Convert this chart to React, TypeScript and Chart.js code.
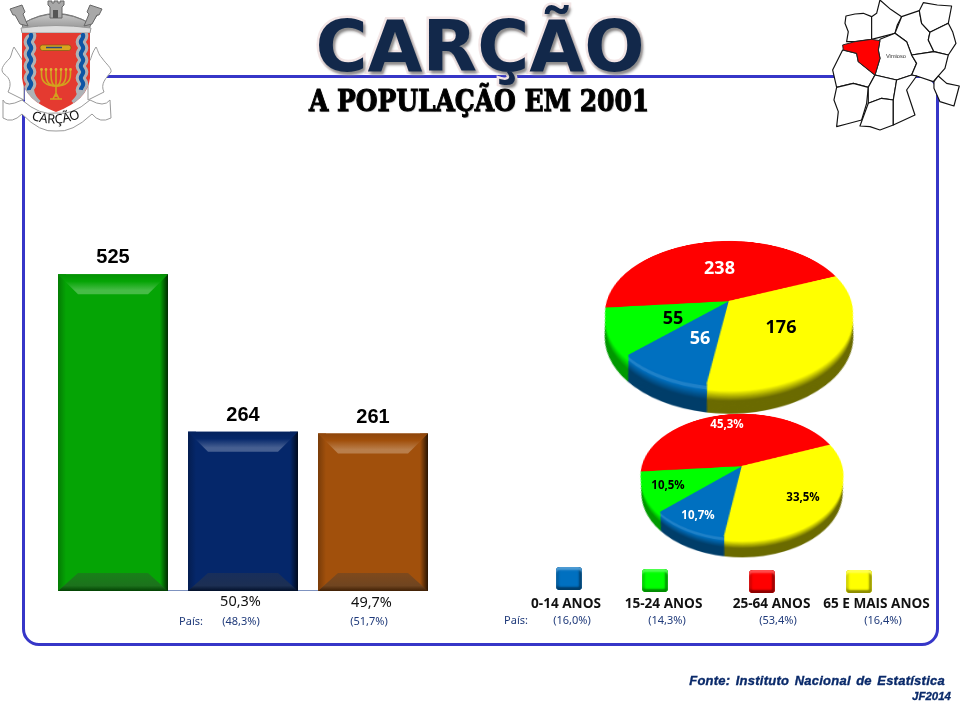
import React, { useEffect, useRef } from "react";
import { Chart, registerables } from "chart.js";

Chart.register(...registerables);

// ---- data ----
const genderCategories = ["Total", "Homens", "Mulheres"];
const genderValues = [525, 264, 261];
const genderColors = ["#05a405", "#05276a", "#a1500c"];
const genderShares = ["", "50,3%", "49,7%"];
const genderNational = ["", "(48,3%)", "(51,7%)"];

const ageCategories = ["0-14 ANOS", "15-24 ANOS", "25-64 ANOS", "65 E MAIS ANOS"];
const ageValues = [56, 55, 238, 176];
const agePercents = [10.7, 10.5, 45.3, 33.5];
const agePercentLabels = ["10,7%", "10,5%", "45,3%", "33,5%"];
const ageNational = ["(16,0%)", "(14,3%)", "(53,4%)", "(16,4%)"];
const ageColors = ["#0070c0", "#00ff00", "#ff0000", "#ffff00"];
const ageLabelColors = ["#ffffff", "#000000", "#ffffff", "#000000"];
const wallFloors = [0.55, 0.6, 0.5, 0.42];

const TITLE = "CARÇÃO";
const SUBTITLE = "A POPULAÇÃO EM 2001";
const SOURCE = "Fonte: Instituto Nacional de Estatística";
const CREDIT = "JF2014";

function hexRgb(hex: string) {
  const n = parseInt(hex.slice(1), 16);
  return [(n >> 16) & 255, (n >> 8) & 255, n & 255];
}
function tone(hex: string, dark: number, light: number) {
  const c = hexRgb(hex).map((v) => {
    const d = v * dark;
    return Math.round(d + (255 - d) * light);
  });
  return `rgb(${c[0]},${c[1]},${c[2]})`;
}
const darker = (hex: string, f: number) => tone(hex, f, 0);
const lighter = (hex: string, f: number) => tone(hex, 1, f);

const barBevel = {
  id: "barBevel",
  beforeDatasetsDraw(chart: any) {
    const { ctx, scales } = chart;
    const base = scales.y.getPixelForValue(0);
    ctx.save();
    ctx.strokeStyle = "#7f93c0";
    ctx.lineWidth = 1;
    ctx.beginPath();
    ctx.moveTo(chart.chartArea.left + 10, base - 0.5);
    ctx.lineTo(chart.chartArea.right - 10, base - 0.5);
    ctx.stroke();
    ctx.restore();
  },
  afterDatasetsDraw(chart: any) {
    const { ctx } = chart;
    const meta = chart.getDatasetMeta(0);
    meta.data.forEach((el: any, i: number) => {
      const col = genderColors[i];
      const l = el.x - el.width / 2;
      const r = el.x + el.width / 2;
      const t = el.y;
      const b = el.base;
      const inset = 20;
      ctx.save();
      let g = ctx.createLinearGradient(l, 0, l + 8, 0);
      g.addColorStop(0, darker(col, 0.75));
      g.addColorStop(1, col);
      ctx.fillStyle = g;
      ctx.fillRect(l, t, 8, b - t);
      g = ctx.createLinearGradient(r - 8, 0, r, 0);
      g.addColorStop(0, col);
      g.addColorStop(1, darker(col, 0.25));
      ctx.fillStyle = g;
      ctx.fillRect(r - 8, t, 8, b - t);

      g = ctx.createLinearGradient(0, t, 0, t + inset);
      g.addColorStop(0, darker(col, 0.88));
      g.addColorStop(0.35, col);
      g.addColorStop(0.8, lighter(col, 0.26));
      g.addColorStop(1, lighter(col, 0.26));
      ctx.fillStyle = g;
      ctx.beginPath();
      ctx.moveTo(l, t);
      ctx.lineTo(r, t);
      ctx.lineTo(r - inset, t + inset);
      ctx.lineTo(l + inset, t + inset);
      ctx.closePath();
      ctx.fill();

      g = ctx.createLinearGradient(0, b - 18, 0, b);
      g.addColorStop(0, tone(col, 0.72, 0.08));
      g.addColorStop(0.7, tone(col, 0.6, 0.1));
      g.addColorStop(1, darker(col, 0.4));
      ctx.fillStyle = g;
      ctx.beginPath();
      ctx.moveTo(l, b);
      ctx.lineTo(r, b);
      ctx.lineTo(r - inset, b - 18);
      ctx.lineTo(l + inset, b - 18);
      ctx.closePath();
      ctx.fill();

      ctx.fillStyle = "#000000";
      ctx.font = "bold 20px 'Liberation Sans'";
      ctx.textAlign = "center";
      ctx.textBaseline = "alphabetic";
      ctx.fillText(String(genderValues[i]), el.x, t - 11);
      ctx.restore();
    });
  },
};

const pieWall = {
  id: "pieWall",
  beforeDatasetsDraw(chart: any, _args: any, opts: any) {
    const { ctx } = chart;
    const depth: number = opts.depth;
    const arcs = chart.getDatasetMeta(0).data;
    ctx.save();
    for (let i = depth; i >= 1; i--) {
      const t = i / depth;
      arcs.forEach((a: any, k: number) => {
        const col = ageColors[k];
        let fill: string;
        if (t < 0.1) fill = col;
        else if (t < 0.22) fill = k === 0 ? lighter(col, 0.12) : col;
        else {
          const u = Math.min(1, (t - 0.22) / 0.36);
          fill = darker(col, 1 + (wallFloors[k] - 1) * u);
        }
        const radius = a.outerRadius * (1 - 0.05 * t);
        ctx.fillStyle = fill;
        ctx.beginPath();
        ctx.moveTo(a.x, a.y + i);
        ctx.arc(a.x, a.y + i, radius, a.startAngle, a.endAngle);
        ctx.closePath();
        ctx.fill();
      });
    }
    ctx.restore();
  },
};

function BarPanel() {
  const ref = useRef<HTMLCanvasElement>(null);
  useEffect(() => {
    const chart = new Chart(ref.current!, {
      type: "bar",
      data: {
        labels: genderCategories,
        datasets: [
          {
            data: genderValues,
            backgroundColor: genderColors,
            borderWidth: 0,
            categoryPercentage: 1,
            barPercentage: 110 / 130,
          },
        ],
      },
      options: {
        animation: false,
        responsive: false,
        devicePixelRatio: 1,
        layout: { padding: 0 },
        plugins: { legend: { display: false }, tooltip: { enabled: false } },
        scales: {
          x: { display: false },
          y: { display: false, min: 0, max: 600 },
        },
      },
      plugins: [barBevel],
    } as any);
    return () => chart.destroy();
  }, []);
  return (
    <canvas
      ref={ref}
      width={390}
      height={362}
      style={{ position: "absolute", left: 48, top: 229 }}
    />
  );
}

function PiePanel(props: {
  values: number[];
  cx: number;
  cy: number;
  radius: number;
  depth: number;
  perspective: number;
  tilt: number;
}) {
  const ref = useRef<HTMLCanvasElement>(null);
  const size = 380;
  useEffect(() => {
    const chart = new Chart(ref.current!, {
      type: "pie",
      data: {
        labels: ageCategories,
        datasets: [
          {
            data: props.values,
            backgroundColor: ageColors,
            borderColor: ageColors,
            borderWidth: 0.5,
          },
        ],
      },
      options: {
        animation: false,
        responsive: false,
        devicePixelRatio: 2,
        rotation: 188.7,
        radius: props.radius,
        layout: { padding: 0 },
        plugins: {
          legend: { display: false },
          tooltip: { enabled: false },
          pieWall: { depth: props.depth },
        },
      },
      plugins: [pieWall],
    } as any);
    return () => chart.destroy();
  }, []);
  return (
    <canvas
      ref={ref}
      width={size}
      height={size}
      style={{
        position: "absolute",
        left: props.cx - size / 2,
        top: props.cy - size / 2,
        transformOrigin: "50% 50%",
        transform: `perspective(${props.perspective}px) rotateX(${props.tilt}deg)`,
      }}
    />
  );
}

function Txt(props: { x: number; y: number; style: React.CSSProperties; children: React.ReactNode; align?: string; sx?: number }) {
  const tx = props.align === "right" ? "-100%" : props.align === "left" ? "0" : "-50%";
  return (
    <div
      style={{
        position: "absolute",
        left: props.x,
        top: props.y,
        transform: `translate(${tx},-50%) scaleX(${props.sx ?? 1})`,
        whiteSpace: "nowrap",
        lineHeight: 1,
        ...props.style,
      }}
    >
      {props.children}
    </div>
  );
}

const mapRegions: number[][] = [
  [1098,48,1125,42,1150,40,1175,50,1178,85,1175,118,1125,125,1100,125,1105,95,1095,70],
  [1175,50,1190,40,1200,0,1232,28,1265,50,1252,75,1245,100,1175,118],
  [1265,50,1318,32,1325,70,1350,97,1345,120,1362,155,1295,165,1280,125,1245,100],
  [1318,32,1330,8,1372,15,1415,18,1405,70,1350,97,1325,70],
  [1350,97,1405,70,1418,95,1428,130,1405,165,1362,155,1345,120],
  [1200,118,1245,100,1280,125,1295,165,1310,190,1295,225,1250,240,1185,225,1200,175,1195,150],
  [1295,165,1362,155,1405,165,1395,205,1360,245,1310,228,1295,225,1310,190],
  [1362,245,1375,228,1400,250,1438,258,1422,318,1380,305,1362,265],
  [1088,150,1130,160,1135,185,1185,225,1165,262,1120,250,1070,262,1058,210],
  [1070,262,1120,250,1165,262,1160,310,1145,360,1100,372,1070,380,1075,335,1062,300],
  [1185,225,1250,240,1240,300,1205,295,1165,310,1165,262],
  [1165,310,1205,295,1240,300,1240,375,1200,390,1170,380,1140,378],
  [1250,240,1295,225,1310,228,1280,270,1305,345,1240,375,1240,300],
];
const mapHighlight = [1088,135,1125,125,1175,118,1200,122,1195,150,1200,175,1185,225,1135,185,1130,160,1090,150];

function RegionMap() {
  return (
    <svg width={960} height={720} style={{ position: "absolute", left: 0, top: 0 }}>
      <g transform="translate(480,0) scale(0.3333)">
        {mapRegions.map((p, i) => (
          <polygon key={i} points={p.join(",")} fill="#fff" stroke="#111" strokeWidth={3.5} strokeLinejoin="round" />
        ))}
        <polygon points={mapHighlight.join(",")} fill="#ff0000" stroke="#222" strokeWidth={3} strokeLinejoin="round" />
        <text x={1218} y={174} fontSize={17} fontFamily="'Liberation Sans'" fill="#333">Vimioso</text>
      </g>
    </svg>
  );
}

function wave(x: number, y0: number, y1: number) {
  let d = `M${x} ${y0}`;
  let s = 1;
  for (let y = y0; y < y1; y += 6) {
    d += ` q${s * 2.4} 3 0 6`;
    s = -s;
  }
  return d;
}

function Crest() {
  const candles = [-14.5, -10, -5, 0, 5, 10, 14.5];
  return (
    <svg width={120} height={135} style={{ position: "absolute", left: 0, top: 0 }}>
      <defs>
        <clipPath id="shieldClip">
          <path d="M22 33 L90 33 L90 78 Q88 100 56 112 Q24 100 22 78 Z" />
        </clipPath>
        <linearGradient id="stone" x1="0" y1="0" x2="0" y2="1">
          <stop offset="0" stopColor="#c8c8c8" />
          <stop offset="1" stopColor="#8c8c8c" />
        </linearGradient>
      </defs>
      {/* scroll sides */}
      <path d="M14 47 C20 56 22 60 24 62 L24 100 L8 92 C12 84 10 78 4 74 C0 70 2 66 10 58 C12 54 12 50 14 47 Z" fill="#fff" stroke="#999" />
      <path d="M96 47 C90 56 92 60 88 62 L88 100 L104 92 C100 84 106 78 111 72 C112 68 106 64 102 58 C98 54 98 50 96 47 Z" fill="#fff" stroke="#999" />
      {/* crown */}
      <path d="M15 14 L24 27 L88 27 L98 14 L91 24 Q56 3 22 24 Z" fill="url(#stone)" stroke="#777" />
      <path d="M22 24 Q56 4 91 24 L88 32 L24 32 Z" fill="url(#stone)" stroke="#777" />
      <path d="M48 5 L48 1 L52 1 L52 3 L54 3 L54 1 L58 1 L58 3 L60 3 L60 1 L64 1 L64 5 L62 7 L62 18 L50 18 L50 7 Z" fill="#a8a8a8" stroke="#666" />
      <rect x={53} y={10} width={5} height={8} fill="#555" />
      <path d="M10 9 L22 5 L25 12 L23 14 L28 26 L20 24 L15 15 L13 15 Z" fill="#a8a8a8" stroke="#666" />
      <path d="M102 9 L90 5 L87 12 L89 14 L84 26 L92 24 L97 15 L99 15 Z" fill="#a8a8a8" stroke="#666" />
      <path d="M21 28 Q56 23 91 28 L90 33 L22 33 Z" fill="#dcdcdc" stroke="#999" />
      {/* shield */}
      <path d="M22 33 L90 33 L90 78 Q88 100 56 112 Q24 100 22 78 Z" fill="#e43a30" />
      <g clipPath="url(#shieldClip)" fill="none">
        <path d={wave(30, 33, 90)} stroke="#aeb2b6" strokeWidth={10} />
        <path d={wave(82, 33, 90)} stroke="#aeb2b6" strokeWidth={10} />
        <path d={wave(30, 33, 90)} stroke="#0d55a5" strokeWidth={4} />
        <path d={wave(82, 33, 90)} stroke="#0d55a5" strokeWidth={4} />
        <path d="M30 90 Q31 98 38 104" stroke="#aeb2b6" strokeWidth={8} />
        <path d="M82 90 Q81 98 74 104" stroke="#aeb2b6" strokeWidth={8} />
      </g>
      {/* book */}
      <rect x={40} y={45} width={31} height={5.5} rx={2.5} fill="#d9a520" stroke="#7d5d10" strokeWidth={0.7} />
      <path d="M46 47.5 H62" stroke="#2a4a7a" strokeWidth={1.5} />
      {/* menorah */}
      <g fill="none" stroke="#d2a21e" strokeWidth={1.6}>
        <path d="M56 70 V97 M50 99 H62 M53 99 L56 93 L59 99" />
        {candles.filter((c) => c !== 0).map((c) => (
          <path key={c} d={`M${56 + c} 70 V74 Q${56 + c} 86 56 86`} />
        ))}
      </g>
      {candles.map((c) => (
        <circle key={c} cx={56 + c} cy={69.5} r={1.4} fill="#e0b030" />
      ))}
      {/* lower ribbon */}
      <path d="M3 100 Q6 108 22 100 Q40 116 56 113 Q72 116 90 100 Q104 108 110 100 L111 118 Q100 124 92 114 Q72 133 56 131 Q40 133 22 114 Q12 124 3 118 Z" fill="#fff" stroke="#999" />
      <path id="crestArc" d="M31 119 Q55 129 82 117" fill="none" />
      <text fontFamily="'Noto Sans'" fontSize={13} fill="#111">
        <textPath href="#crestArc">CARÇÃO</textPath>
      </text>
    </svg>
  );
}

const legendX = [569, 655, 762, 859];
const legendY = [578, 580, 581, 581];
const legendLabelX = [566, 663.5, 771.5, 876.5];
const nationalX = [572, 667, 778, 883];
const bigLabelPos = [[700, 337], [673, 317], [719.5, 267], [781, 326]];
const smallLabelPos = [[698, 515], [668, 485], [727, 424], [803, 497]];
const barShareX = [0, 240.5, 371.5];
const barShareY = [0, 600, 601];
const barNationalX = [0, 241, 369];

export default function App() {
  const navy = "#1f3a7a";
  const small: React.CSSProperties = { fontFamily: "'Noto Sans'", fontSize: 11, color: navy };
  return (
    <div style={{ position: "absolute", left: 0, top: 0, width: 960, height: 720, overflow: "hidden", background: "#fff" }}>
      {/* frame */}
      <div
        style={{
          position: "absolute",
          left: 22,
          top: 75,
          width: 911,
          height: 565,
          border: "3px solid #3636c8",
          borderRadius: 17,
          boxSizing: "content-box",
        }}
      />
      <BarPanel />
      <PiePanel values={ageValues} cx={728.5} cy={301} radius={122} depth={39} perspective={600} tilt={55} />
      <PiePanel values={agePercents} cx={741.7} cy={465.7} radius={100} depth={28} perspective={517} tilt={53} />

      <RegionMap />
      <Crest />

      <Txt
        x={480}
        y={46}
        style={{
          fontFamily: "'DejaVu Sans'",
          fontWeight: 700,
          fontSize: 71,
          color: "#12284a",
          WebkitTextStroke: "5px #f3e6e6",
          paintOrder: "stroke fill",
          textShadow: "2px 3px 3px #888",
        }}
      >
        {TITLE}
      </Txt>
      <Txt
        x={478.5}
        y={101}
        sx={0.86}
        style={{
          fontFamily: "'DejaVu Serif'",
          fontWeight: 700,
          fontSize: 29,
          color: "#000",
          WebkitTextStroke: "1px #000",
          textShadow: "1px 1px 1px #999",
        }}
      >
        {SUBTITLE}
      </Txt>

      {genderShares.map((s, i) =>
        s ? (
          <React.Fragment key={s}>
            <Txt x={barShareX[i]} y={barShareY[i]} style={{ fontFamily: "'Noto Sans'", fontSize: 14.5, color: "#111" }}>
              {s}
            </Txt>
            <Txt x={barNationalX[i]} y={620} style={small}>
              {genderNational[i]}
            </Txt>
          </React.Fragment>
        ) : null
      )}
      <Txt x={191} y={619.5} style={small}>País:</Txt>
      <Txt x={516} y={618.5} style={small}>País:</Txt>

      {ageValues.map((v, i) => (
        <Txt
          key={"b" + i}
          x={bigLabelPos[i][0]}
          y={bigLabelPos[i][1]}
          style={{ fontFamily: "'Open Sans'", fontWeight: 700, fontSize: 18, color: ageLabelColors[i] }}
        >
          {v}
        </Txt>
      ))}
      {agePercentLabels.map((v, i) => (
        <Txt
          key={"s" + i}
          x={smallLabelPos[i][0]}
          y={smallLabelPos[i][1]}
          style={{ fontFamily: "'Open Sans'", fontWeight: 700, fontSize: 11.5, color: ageLabelColors[i] }}
        >
          {v}
        </Txt>
      ))}

      {ageCategories.map((c, i) => (
        <React.Fragment key={c}>
          <div
            style={{
              position: "absolute",
              left: legendX[i] - 13,
              top: legendY[i] - 11.5,
              width: 26,
              height: 23,
              borderRadius: 4,
              background: ageColors[i],
              boxShadow: `inset 0 3px 2px ${lighter(ageColors[i], 0.3)}, inset 0 -3px 2px ${darker(ageColors[i], 0.55)}, inset -3px 0 2px ${darker(ageColors[i], 0.6)}, inset 3px 0 2px ${darker(ageColors[i], 0.85)}`,
            }}
          />
          <Txt
            x={legendLabelX[i]}
            y={603}
            style={{ fontFamily: "'Open Sans'", fontWeight: 700, fontSize: 13.6, color: "#111" }}
          >
            {c}
          </Txt>
          <Txt x={nationalX[i]} y={619} style={small}>
            {ageNational[i]}
          </Txt>
        </React.Fragment>
      ))}

      <Txt
        x={945}
        y={680}
        align="right"
        style={{ fontFamily: "'Liberation Sans'", fontWeight: 700, fontStyle: "italic", fontSize: 13, letterSpacing: 0.25, wordSpacing: 1.5, color: "#0a2a6a", WebkitTextStroke: "0.35px #0a2a6a" }}
      >
        {SOURCE}
      </Txt>
      <Txt
        x={951}
        y={697}
        align="right"
        style={{ fontFamily: "'Liberation Sans'", fontWeight: 700, fontStyle: "italic", fontSize: 11.5, color: "#0a2a6a", WebkitTextStroke: "0.3px #0a2a6a" }}
      >
        {CREDIT}
      </Txt>
    </div>
  );
}
